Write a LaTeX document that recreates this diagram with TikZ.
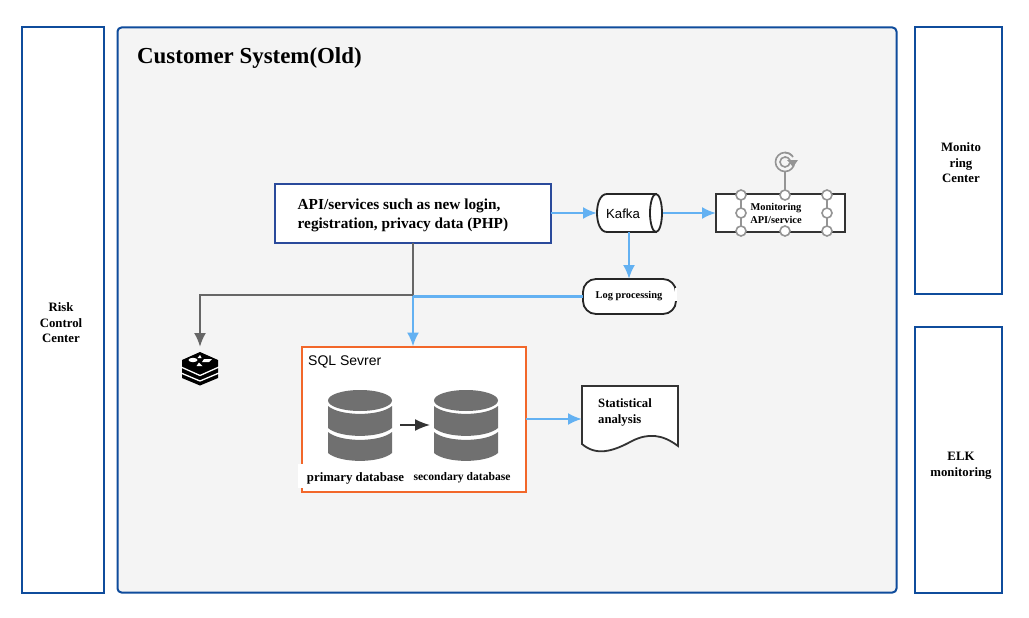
\documentclass[tikz,border=0pt]{standalone}
\usepackage{fontspec}
\setmainfont{Liberation Serif}
\newfontfamily\labelsans{Liberation Sans}
\usetikzlibrary{arrows.meta,calc}
\definecolor{frameblue}{HTML}{0F4C9C}
\definecolor{apiblue}{HTML}{2A4A9B}
\definecolor{panelgray}{HTML}{F4F4F4}
\definecolor{flowblue}{HTML}{63B1F2}
\definecolor{darkgrayline}{HTML}{666666}
\definecolor{dbgray}{HTML}{707070}
\definecolor{sqlorange}{HTML}{F2672A}
\definecolor{handle}{HTML}{949494}
\tikzset{
  x=1pt,y=-1pt,
  sidebox/.style={draw=frameblue,line width=2pt,fill=white,inner sep=0pt,outer sep=0pt,anchor=north west,minimum width=#1},
  sidelabel/.style={font=\bfseries\fontsize{12.8}{15.5}\selectfont,align=center,inner sep=0pt},
  flow/.style={draw=flowblue,line width=2.2pt,-{Latex[length=14pt,width=12pt]}},
  grayflow/.style={draw=darkgrayline,line width=2.2pt},
  grayarrow/.style={draw=darkgrayline,line width=2.2pt,-{Latex[length=14pt,width=12pt]}},
  smallbold/.style={font=\bfseries\fontsize{10.4}{13}\selectfont,align=center,inner sep=0pt},
  hnd/.style={circle,draw=handle,line width=1.6pt,fill=white,minimum size=10pt,inner sep=0pt},
  hndline/.style={draw=handle,line width=1.2pt},
  pill/.style={draw=black!85,line width=1.8pt,fill=white},
}
\newcommand{\dbicon}[2]{%
  \fill[dbgray] (#1,#2+10.5) ellipse[x radius=32,y radius=10.5];
  \fill[dbgray] (#1-32,#2+16) .. controls (#1-20,#2+26.5) and (#1+20,#2+26.5) .. (#1+32,#2+16)
     -- (#1+32,#2+38) .. controls (#1+20,#2+48.5) and (#1-20,#2+48.5) .. (#1-32,#2+38) -- cycle;
  \fill[dbgray] (#1-32,#2+42) .. controls (#1-20,#2+52.5) and (#1+20,#2+52.5) .. (#1+32,#2+42)
     -- (#1+32,#2+63) .. controls (#1+20,#2+73.5) and (#1-20,#2+73.5) .. (#1-32,#2+63) -- cycle;
}
\begin{document}
\begin{tikzpicture}
\useasboundingbox (0,0) rectangle (1029,618);
\fill[white] (0,0) rectangle (1029,618);

% frames
\draw[frameblue,line width=2pt,fill=panelgray,rounded corners=4pt] (117.5,27.5) rectangle (896.5,592.5);
\node[sidebox=82pt,minimum height=565pt] (risk) at (22,27.5) {};
\node[sidebox=87pt,minimum height=266pt] (mon) at (915,27.5) {};
\node[sidebox=87pt,minimum height=266pt] (elk) at (915,326.5) {};
\node[sidelabel] (risktext) at (61,323) {Risk\\Control\\Center};
\node[sidelabel] (montext) at (961,163) {Monito\\ring\\Center};
\node[sidelabel] (elktext) at (961,465.5) {ELK\\monitoring};
\node[font=\bfseries\fontsize{22.9}{26}\selectfont,anchor=west,inner sep=0pt] (title) at (137,58.5) {Customer System(Old)};

% API
\node[draw=apiblue,line width=2.2pt,fill=white,minimum width=276pt,minimum height=59pt,anchor=north west,inner sep=0pt,outer sep=0pt] (api) at (275,184) {};
\node[font=\bfseries\fontsize{15.3}{19}\selectfont,align=left,anchor=west,inner sep=0pt] (apitext) at (297.5,215.5) {API/services such as new login,\\registration, privacy data (PHP)};

% Kafka
\coordinate (kafW) at (597,213);
\coordinate (kafE) at (663,213);
\draw[pill] (656,194) -- (607,194) .. controls (600,194) and (597,204) .. (597,213) .. controls (597,222) and (600,232) .. (607,232) -- (656,232) -- cycle;
\draw[pill] (656,213) ellipse[x radius=6,y radius=19];
\node[font=\labelsans\fontsize{13.2}{14}\selectfont,inner sep=0pt] (kafka) at (623,214) {Kafka};

% Monitoring
\node[draw=black!80,line width=2.2pt,fill=white,minimum width=129pt,minimum height=38pt,anchor=north west,inner sep=0pt,outer sep=0pt] (monapi) at (716,194) {};
\draw[hndline] (741,195) -- (741,231);
\draw[hndline] (827,195) -- (827,231);
\draw[hndline] (785,171.5) -- (785,195);
\node[smallbold] (monapitext) at (776,213.5) {Monitoring\\API/service};
\foreach \hx/\hy in {741/195,785/195,827/195,741/213,827/213,741/231,785/231,827/231}
  \node[hnd] at (\hx,\hy) {};
% rotate handle
\draw[handle,line width=1.6pt] (785,162) circle[radius=9.5];
\draw[handle,line width=1.6pt] (785,162) circle[radius=5];
\fill[panelgray] (786,155.5) rectangle (797,163);
\draw[handle,line width=1.6pt] (785,152.5) .. controls (788,152.5) and (791,154) .. (793,157);
\draw[handle,line width=1.6pt] (785,157) .. controls (787,157) and (789,158) .. (790,160);
\fill[handle] (787,160) -- (798,160) -- (793,167) -- cycle;

% Log processing
\node[pill,rounded corners=13pt,minimum width=93pt,minimum height=35pt,anchor=north west,inner sep=0pt,outer sep=0pt] (log) at (583,279) {};
\draw[white,line width=2.2pt] (676,288) -- (676,301);
\node[smallbold] (logtext) at (629,296) {Log processing};

% SQL
\node[draw=sqlorange,line width=2pt,fill=white,minimum width=224pt,minimum height=145pt,anchor=north west,inner sep=0pt,outer sep=0pt] (sql) at (301.5,346.5) {};
\node[font=\labelsans\fontsize{14}{15}\selectfont,anchor=west,inner sep=0pt] (sqltext) at (308,362) {SQL Sevrer};
\dbicon{360}{390}
\dbicon{466}{390}
\coordinate (db1E) at (400,425);
\coordinate (db2W) at (430,425);
\draw[draw=black!80,line width=1.6pt,-{Latex[length=15pt,width=12pt]}] (db1E) -- (db2W);
\fill[white] (298,464) rectangle (410,488);
\node[font=\bfseries\fontsize{12.8}{13}\selectfont,inner sep=0pt] (prim) at (355.5,478) {primary database};
\node[font=\bfseries\fontsize{11.6}{13}\selectfont,inner sep=0pt] (sec) at (462,478) {secondary database};

% Statistical
\draw[black!80,line width=1.8pt,fill=white] (582,386) -- (678,386) -- (678,446) .. controls (662,434) and (648,433) .. (632,441) .. controls (612,452) and (596,456) .. (582,444) -- cycle;
\coordinate (statW) at (582,419);
\node[font=\bfseries\fontsize{12.7}{16}\selectfont,align=left,anchor=west,inner sep=0pt] (stat) at (598,412) {Statistical\\analysis};

% Redis
\fill[black] (200,352) -- (218,360) -- (218,378) -- (200,385.5) -- (182,378) -- (182,360) -- cycle;
\draw[white,line width=1.3pt] (181,367) -- (200,375.5) -- (219,367);
\draw[white,line width=1.3pt] (181,373) -- (200,381) -- (219,373);
\fill[white] (193,360) ellipse[x radius=4.5,y radius=2.2];
\fill[white] (204,359) -- (212,359) -- (209,362) -- (202,362) -- cycle;
\fill[white] (200,355) -- (201.5,358) -- (197.5,358) -- cycle;
\fill[white] (199,362.5) -- (202.5,366) -- (196.5,366) -- cycle;
\coordinate (redis) at (200,347);
\coordinate (split) at (413,295);

% connectors
\draw[flow] (api.east |- kafW) -- (kafW);
\draw[flow] (kafE) -- (monapi.west);
\draw[flow] (629,232) -- (log.north -| 629,0);
\draw[flow] (log.west) -- (413,296.5) -- (sql.north -| 413,0);
\draw[grayflow] (api.south -| split) -- (split);
\draw[grayarrow] (split) -- (200,295) -- (redis);
\draw[flow] (sql.east |- statW) -- (statW);
\end{tikzpicture}
\end{document}
